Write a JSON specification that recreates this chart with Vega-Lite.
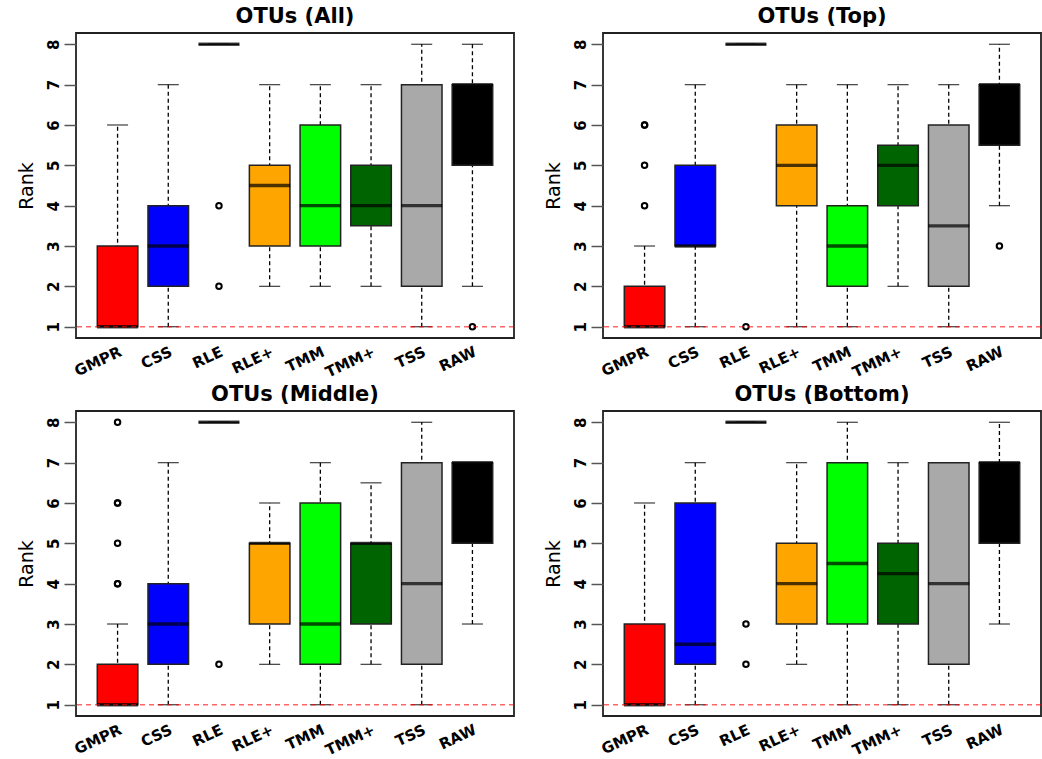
{
  "$schema": "https://vega.github.io/schema/vega-lite/v6.json",
  "padding": {"left": 16, "top": 5, "right": 0, "bottom": 0},
  "bounds": "flush",
  "config": {
    "font": "DejaVu Sans",
    "view": {"stroke": "#222222", "strokeWidth": 1.8},
    "axisY": {
      "values": [1, 2, 3, 4, 5, 6, 7, 8],
      "labelAngle": -90,
      "labelAlign": "center",
      "labelBaseline": "bottom",
      "labelFontSize": 15,
      "labelFontWeight": "bold",
      "labelColor": "black",
      "labelPadding": 3,
      "tickSize": 12,
      "tickColor": "#555555",
      "tickWidth": 1.5,
      "domain": false,
      "grid": false,
      "titleFontSize": 19,
      "titleFontWeight": "normal",
      "titleColor": "black",
      "titlePadding": 10
    },
    "axisX": {
      "labelAngle": -25,
      "labelAlign": "right",
      "labelBaseline": "top",
      "labelFontSize": 15,
      "labelFontWeight": "bold",
      "labelColor": "black",
      "labelPadding": 6,
      "ticks": false,
      "domain": false,
      "grid": false
    }
  },
  "data": {"values": [
    {"p": "OTUs (All)", "m": "GMPR", "lo": 1, "q1": 1, "med": 1, "q3": 3, "hi": 6},
    {"p": "OTUs (All)", "m": "CSS", "lo": 1, "q1": 2, "med": 3, "q3": 4, "hi": 7},
    {"p": "OTUs (All)", "m": "RLE", "lo": 8, "q1": 8, "med": 8, "q3": 8, "hi": 8},
    {"p": "OTUs (All)", "m": "RLE+", "lo": 2, "q1": 3, "med": 4.5, "q3": 5, "hi": 7},
    {"p": "OTUs (All)", "m": "TMM", "lo": 2, "q1": 3, "med": 4, "q3": 6, "hi": 7},
    {"p": "OTUs (All)", "m": "TMM+", "lo": 2, "q1": 3.5, "med": 4, "q3": 5, "hi": 7},
    {"p": "OTUs (All)", "m": "TSS", "lo": 1, "q1": 2, "med": 4, "q3": 7, "hi": 8},
    {"p": "OTUs (All)", "m": "RAW", "lo": 2, "q1": 5, "med": 7, "q3": 7, "hi": 8},
    {"p": "OTUs (All)", "m": "RLE", "o": 4},
    {"p": "OTUs (All)", "m": "RLE", "o": 2},
    {"p": "OTUs (All)", "m": "RAW", "o": 1},

    {"p": "OTUs (Top)", "m": "GMPR", "lo": 1, "q1": 1, "med": 1, "q3": 2, "hi": 3},
    {"p": "OTUs (Top)", "m": "CSS", "lo": 1, "q1": 3, "med": 3, "q3": 5, "hi": 7},
    {"p": "OTUs (Top)", "m": "RLE", "lo": 8, "q1": 8, "med": 8, "q3": 8, "hi": 8},
    {"p": "OTUs (Top)", "m": "RLE+", "lo": 1, "q1": 4, "med": 5, "q3": 6, "hi": 7},
    {"p": "OTUs (Top)", "m": "TMM", "lo": 1, "q1": 2, "med": 3, "q3": 4, "hi": 7},
    {"p": "OTUs (Top)", "m": "TMM+", "lo": 2, "q1": 4, "med": 5, "q3": 5.5, "hi": 7},
    {"p": "OTUs (Top)", "m": "TSS", "lo": 1, "q1": 2, "med": 3.5, "q3": 6, "hi": 7},
    {"p": "OTUs (Top)", "m": "RAW", "lo": 4, "q1": 5.5, "med": 7, "q3": 7, "hi": 8},
    {"p": "OTUs (Top)", "m": "GMPR", "o": 4},
    {"p": "OTUs (Top)", "m": "GMPR", "o": 5},
    {"p": "OTUs (Top)", "m": "GMPR", "o": 6},
    {"p": "OTUs (Top)", "m": "GMPR", "o": 6},
    {"p": "OTUs (Top)", "m": "RLE", "o": 1},
    {"p": "OTUs (Top)", "m": "RAW", "o": 3},

    {"p": "OTUs (Middle)", "m": "GMPR", "lo": 1, "q1": 1, "med": 1, "q3": 2, "hi": 3},
    {"p": "OTUs (Middle)", "m": "CSS", "lo": 1, "q1": 2, "med": 3, "q3": 4, "hi": 7},
    {"p": "OTUs (Middle)", "m": "RLE", "lo": 8, "q1": 8, "med": 8, "q3": 8, "hi": 8},
    {"p": "OTUs (Middle)", "m": "RLE+", "lo": 2, "q1": 3, "med": 5, "q3": 5, "hi": 6},
    {"p": "OTUs (Middle)", "m": "TMM", "lo": 1, "q1": 2, "med": 3, "q3": 6, "hi": 7},
    {"p": "OTUs (Middle)", "m": "TMM+", "lo": 2, "q1": 3, "med": 5, "q3": 5, "hi": 6.5},
    {"p": "OTUs (Middle)", "m": "TSS", "lo": 1, "q1": 2, "med": 4, "q3": 7, "hi": 8},
    {"p": "OTUs (Middle)", "m": "RAW", "lo": 3, "q1": 5, "med": 7, "q3": 7, "hi": 7},
    {"p": "OTUs (Middle)", "m": "GMPR", "o": 4},
    {"p": "OTUs (Middle)", "m": "GMPR", "o": 4},
    {"p": "OTUs (Middle)", "m": "GMPR", "o": 5},
    {"p": "OTUs (Middle)", "m": "GMPR", "o": 6},
    {"p": "OTUs (Middle)", "m": "GMPR", "o": 6},
    {"p": "OTUs (Middle)", "m": "GMPR", "o": 8},
    {"p": "OTUs (Middle)", "m": "RLE", "o": 2},

    {"p": "OTUs (Bottom)", "m": "GMPR", "lo": 1, "q1": 1, "med": 1, "q3": 3, "hi": 6},
    {"p": "OTUs (Bottom)", "m": "CSS", "lo": 1, "q1": 2, "med": 2.5, "q3": 6, "hi": 7},
    {"p": "OTUs (Bottom)", "m": "RLE", "lo": 8, "q1": 8, "med": 8, "q3": 8, "hi": 8},
    {"p": "OTUs (Bottom)", "m": "RLE+", "lo": 2, "q1": 3, "med": 4, "q3": 5, "hi": 7},
    {"p": "OTUs (Bottom)", "m": "TMM", "lo": 1, "q1": 3, "med": 4.5, "q3": 7, "hi": 8},
    {"p": "OTUs (Bottom)", "m": "TMM+", "lo": 1, "q1": 3, "med": 4.25, "q3": 5, "hi": 7},
    {"p": "OTUs (Bottom)", "m": "TSS", "lo": 1, "q1": 2, "med": 4, "q3": 7, "hi": 7},
    {"p": "OTUs (Bottom)", "m": "RAW", "lo": 3, "q1": 5, "med": 7, "q3": 7, "hi": 8},
    {"p": "OTUs (Bottom)", "m": "RLE", "o": 3},
    {"p": "OTUs (Bottom)", "m": "RLE", "o": 2}
  ]},
  "facet": {
    "field": "p",
    "type": "nominal",
    "sort": ["OTUs (All)", "OTUs (Top)", "OTUs (Middle)", "OTUs (Bottom)"],
    "header": {
      "title": null,
      "labelFontSize": 21,
      "labelFontWeight": "bold",
      "labelColor": "black",
      "labelPadding": 6
    }
  },
  "columns": 2,
  "spacing": {"row": 73, "column": 89},
  "resolve": {"axis": {"x": "independent", "y": "independent"}},
  "spec": {
    "width": 438,
    "height": 305,
    "layer": [
      {
        "transform": [{"filter": "isValid(datum.lo)"}],
        "mark": {"type": "rule", "color": "black", "strokeWidth": 1.3, "strokeDash": [4, 3]},
        "encoding": {
          "x": {"field": "m", "type": "nominal", "title": null, "sort": ["GMPR", "CSS", "RLE", "RLE+", "TMM", "TMM+", "TSS", "RAW"], "scale": {"paddingInner": 0, "paddingOuter": 0.32}},
          "y": {"field": "lo", "type": "quantitative", "title": "Rank", "scale": {"domain": [0.72, 8.28], "nice": false, "zero": false}},
          "y2": {"field": "hi"}
        }
      },
      {
        "transform": [{"filter": "isValid(datum.lo)"}],
        "mark": {"type": "tick", "color": "black", "size": 21, "thickness": 1.3},
        "encoding": {
          "x": {"field": "m", "type": "nominal", "title": null, "sort": ["GMPR", "CSS", "RLE", "RLE+", "TMM", "TMM+", "TSS", "RAW"]},
          "y": {"field": "lo", "type": "quantitative", "title": "Rank"}
        }
      },
      {
        "transform": [{"filter": "isValid(datum.lo)"}],
        "mark": {"type": "tick", "color": "black", "size": 21, "thickness": 1.3},
        "encoding": {
          "x": {"field": "m", "type": "nominal", "title": null, "sort": ["GMPR", "CSS", "RLE", "RLE+", "TMM", "TMM+", "TSS", "RAW"]},
          "y": {"field": "hi", "type": "quantitative", "title": "Rank"}
        }
      },
      {
        "transform": [{"filter": "isValid(datum.lo)"}],
        "mark": {"type": "bar", "width": {"band": 0.8}, "stroke": "#222222", "strokeWidth": 1.5},
        "encoding": {
          "x": {"field": "m", "type": "nominal", "title": null, "sort": ["GMPR", "CSS", "RLE", "RLE+", "TMM", "TMM+", "TSS", "RAW"]},
          "y": {"field": "q1", "type": "quantitative", "title": "Rank"},
          "y2": {"field": "q3"},
          "color": {
            "field": "m",
            "type": "nominal",
            "scale": {
              "domain": ["GMPR", "CSS", "RLE", "RLE+", "TMM", "TMM+", "TSS", "RAW"],
              "range": ["#FF0000", "#0000FF", "#FFFFFF", "#FFA500", "#00FF00", "#006400", "#A9A9A9", "#000000"]
            },
            "legend": null
          }
        }
      },
      {
        "transform": [{"filter": "isValid(datum.lo)"}],
        "mark": {"type": "tick", "color": "black", "size": 41, "thickness": 3.4},
        "encoding": {
          "x": {"field": "m", "type": "nominal", "title": null, "sort": ["GMPR", "CSS", "RLE", "RLE+", "TMM", "TMM+", "TSS", "RAW"]},
          "y": {"field": "med", "type": "quantitative", "title": "Rank"}
        }
      },
      {
        "transform": [{"filter": "isValid(datum.o)"}],
        "mark": {"type": "point", "shape": "circle", "filled": false, "color": "black", "opacity": 1, "strokeWidth": 2, "size": 30},
        "encoding": {
          "x": {"field": "m", "type": "nominal", "title": null, "sort": ["GMPR", "CSS", "RLE", "RLE+", "TMM", "TMM+", "TSS", "RAW"]},
          "y": {"field": "o", "type": "quantitative", "title": "Rank"}
        }
      },
      {
        "transform": [{"filter": "datum.m == 'GMPR' && isValid(datum.lo)"}],
        "mark": {"type": "rule", "color": "#FF0000", "opacity": 0.6, "strokeWidth": 1.5, "strokeDash": [5, 4]},
        "encoding": {
          "y": {"datum": 1, "type": "quantitative", "title": "Rank"}
        }
      }
    ]
  }
}
